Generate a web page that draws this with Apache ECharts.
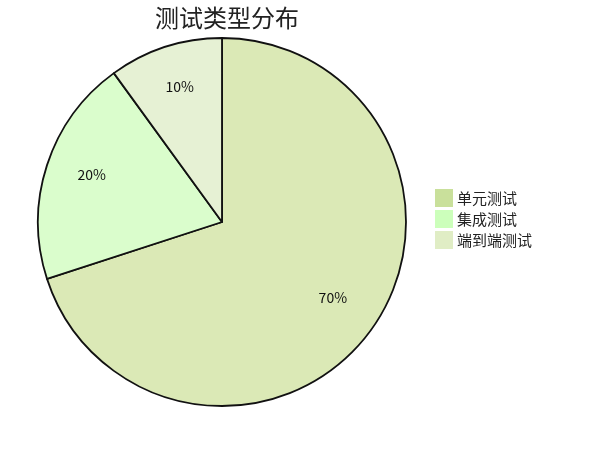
<!DOCTYPE html>
<html style="height: 100%">
<head>
    <meta charset="utf-8">
</head>
<body style="height: 100%; margin: 0">
    <div id="main" style="width: 597px; height: 450px"></div>
    <script src="https://cdn.jsdelivr.net/npm/echarts@6/dist/echarts.min.js"></script>
    <script type="text/javascript">
        var categories = ['单元测试', '集成测试', '端到端测试'];
        var values = [70, 20, 10];
        var sliceColors = ['#dbe9b6', '#dafdcc', '#e6f1d4'];
        var legendColors = ['#c9e09b', '#ccffbb', '#e0edc5'];

        var pieData = categories.map(function (name, i) {
            return { name: name, value: values[i], itemStyle: { color: sliceColors[i] } };
        });
        var labelData = categories.map(function (name, i) {
            return { name: name, value: values[i] };
        });

        var dom = document.getElementById('main');
        var myChart = echarts.init(dom, null, { renderer: 'canvas' });
        var font = '"Noto Sans CJK SC", "Noto Sans", sans-serif';

        var option = {
            animation: false,
            title: {
                text: '测试类型分布',
                left: 222,
                top: 1,
                textAlign: 'center',
                textStyle: { fontSize: 24, fontWeight: 'normal', color: '#222', fontFamily: font }
            },
            legend: {
                orient: 'vertical',
                left: 430,
                top: 184,
                padding: 5,
                itemWidth: 18,
                itemHeight: 18,
                itemGap: 3,
                icon: 'rect',
                textStyle: { fontSize: 15, color: '#222', fontFamily: font, padding: [0, 0, 0, -1] },
                data: categories.map(function (name, i) {
                    return { name: name, itemStyle: { color: legendColors[i], borderWidth: 0 } };
                })
            },
            series: [
                {
                    name: '测试类型',
                    type: 'pie',
                    center: [222, 222],
                    radius: [0, 184],
                    startAngle: 90,
                    clockwise: true,
                    silent: true,
                    label: { show: false },
                    labelLine: { show: false },
                    itemStyle: { borderColor: '#111', borderWidth: 1.8 },
                    data: pieData
                },
                {
                    name: 'labels',
                    type: 'pie',
                    center: [222, 222],
                    radius: [84, 184],
                    startAngle: 90,
                    clockwise: true,
                    silent: true,
                    legendHoverLink: false,
                    itemStyle: { color: 'transparent', borderWidth: 0 },
                    label: {
                        show: true,
                        position: 'inside',
                        formatter: '{c}%',
                        fontSize: 14,
                        color: '#111',
                        fontFamily: font
                    },
                    labelLayout: function () {
                        return { dy: -5 };
                    },
                    labelLine: { show: false },
                    data: labelData
                }
            ]
        };

        myChart.setOption(option);
        window.addEventListener('resize', myChart.resize);
    </script>
</body>
</html>
